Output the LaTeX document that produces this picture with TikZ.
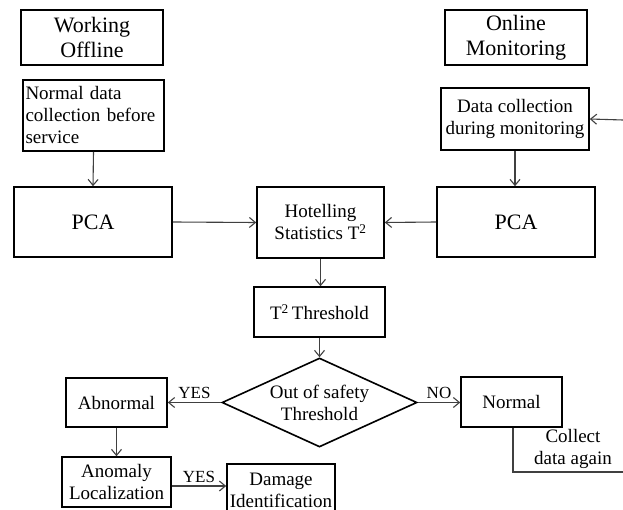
\documentclass[tikz,border=0pt]{standalone}
\usepackage{fontspec}
\setmainfont{Liberation Serif}
\usetikzlibrary{shapes.geometric,arrows.meta}
\tikzset{
  box/.style={draw=black, line width=1.6pt, inner sep=0pt, align=center,
    font=\fontsize{19}{22}\selectfont},
  headbox/.style={box, font=\fontsize{22}{25}\selectfont},
  conn/.style={draw=black!75, line width=1.1pt,
    -{Straight Barb[length=6pt,width=10pt,line width=1.1pt]}},
  plainline/.style={draw=black!75, line width=1.1pt},
  lbl/.style={inner sep=0pt, font=\fontsize{17}{20}\selectfont},
}
\begin{document}
\begin{tikzpicture}[x=1pt,y=-1pt]
\useasboundingbox (0,0) rectangle (623,510);
\clip (0,0) rectangle (623,510);
% top row
\node[headbox, minimum width=142pt, minimum height=55pt] (wo) at (92,37.5) {Working\\Offline};
\node[headbox, minimum width=142pt, minimum height=55pt] (om) at (516,37.5) {Online\\Monitoring};
% data collection
\node[box, minimum width=141pt, minimum height=71pt, text width=136pt, align=left] (nd) at (93.5,115.5) {Normal data\\collection before\\service};
\node[box, minimum width=148pt, minimum height=62pt] (dc) at (515,119) {Data collection\\during monitoring};
% PCA and Hotelling
\node[headbox, minimum width=158pt, minimum height=70pt] (pl) at (93,222) {PCA};
\node[headbox, minimum width=158pt, minimum height=70pt] (pr) at (516,222) {PCA};
\node[box, minimum width=127pt, minimum height=71pt] (ht) at (320.5,222.5) {Hotelling\\Statistics T\textsuperscript{2}};
\node[box, minimum width=131pt, minimum height=50pt] (tt) at (319.5,312) {T\textsuperscript{2}\,Threshold};
% decision
\node[box, shape=diamond, aspect=2.19, minimum width=195pt, minimum height=89pt] (dm) at (319.5,402.5) {Out of safety\\Threshold};
\node[box, minimum width=101pt, minimum height=49pt] (ab) at (116.5,402.5) {Abnormal};
\node[box, minimum width=101pt, minimum height=50pt] (nm) at (511.5,402) {Normal};
\node[box, minimum width=109pt, minimum height=50pt] (al) at (116.5,482) {Anomaly\\Localization};
\node[box, minimum width=108pt, minimum height=52pt, text depth=0pt] (di) at (281,490) {Damage\\Identification};
% connectors
\draw[conn] (nd.south) -- (pl.north);
\draw[conn] (dc.south) -- (dc.south |- pr.north);
\draw[conn] (pl.east) -- (ht.west);
\draw[conn] (pr.west) -- (ht.east);
\draw[conn] (ht.south) -- (ht.south |- tt.north);
\draw[conn] (tt.south) -- (dm.north);
\draw[conn] (dm.west) -- node[lbl, above=3pt] {YES} (ab.east);
\draw[conn] (dm.east) -- node[lbl, above=3pt] {NO} (dm.east -| nm.west);
\draw[conn] (ab.south) -- (al.north);
\draw[conn] (al.east |- 0,486) -- node[lbl, above=3pt] {YES} (di.west |- 0,486);
% feedback
\coordinate (fb1) at (513,472);
\coordinate (fb2) at (623,472);
\coordinate (fb3) at (623,120);
\draw[plainline] (nm.south -| fb1) -- (fb1) -- (fb2);
\draw[conn] (fb3) -- (dc.east);
\node[lbl, font=\fontsize{19}{22}\selectfont, align=center] (cd) at (573,448.5) {Collect\\data again};
\end{tikzpicture}
\end{document}
